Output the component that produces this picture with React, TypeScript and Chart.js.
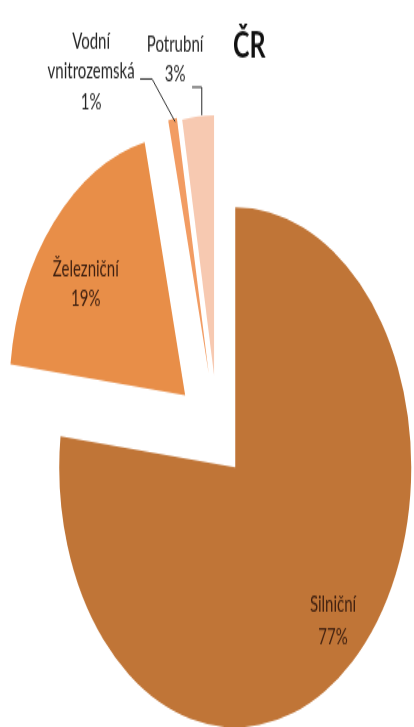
import React, { useEffect, useRef } from 'react';
import { Chart, ArcElement, PieController } from 'chart.js';

// ---- data ----
const categories = ['Silniční', 'Železniční', 'Vodní vnitrozemská', 'Potrubní'];
const labelLines = [['Silniční'], ['Železniční'], ['Vodní', 'vnitrozemská'], ['Potrubní']];
const shares = [76.9, 19.4, 0.8, 2.9];
const chartTitle = 'ČR';

// ---- styles ----
const sliceColors = ['#C07537', '#E88E48', '#F29C63', '#F7C9B1'];
const explodeDistance = [26, 44, 45, 43];
const CANVAS_W = 414;
const CANVAS_H = 492;
const PIE_RADIUS = 176;

// Arc that is exploded by a pure translation along its mid angle (Excel style)
class ExplodedArc extends ArcElement {
  static id = 'explodedArc';
  draw(ctx: CanvasRenderingContext2D) {
    const opts: any = (this as any).options;
    const d = opts.offset || 0;
    const self: any = this;
    const mid = (self.startAngle + self.endAngle) / 2;
    ctx.save();
    ctx.translate(Math.cos(mid) * d, Math.sin(mid) * d);
    self.options = Object.assign({}, opts, { offset: 0 });
    super.draw(ctx);
    self.options = opts;
    ctx.restore();
  }
}

Chart.register(PieController, ExplodedArc);
(Chart.defaults as any).datasets.pie.dataElementType = 'explodedArc';

type LabelLayout =
  | { kind: 'inside'; frac: number; dx: number; dy: number; lh: number }
  | {
      kind: 'outside';
      leader: [number, number][];
      textX: number;
      textY: number;
      lh: number;
    };

const labelLayout: LabelLayout[] = [
  { kind: 'inside', frac: 0.82, dx: 2, dy: -4, lh: 22 },
  { kind: 'inside', frac: 0.7, dx: -7.5, dy: 6.5, lh: 20.5 },
  {
    kind: 'outside',
    leader: [
      [2.6, 1.8],
      [-20.4, -27.1],
      [-32.4, -27.1],
    ],
    textX: -81.4,
    textY: -52.2,
    lh: 20.3,
  },
  {
    kind: 'outside',
    leader: [
      [3.7, -0.8],
      [3.7, -19.7],
      [-6, -19.7],
    ],
    textX: -23,
    textY: -48.1,
    lh: 19.6,
  },
];

const labelsPlugin = {
  id: 'sliceLabels',
  afterDatasetsDraw(chart: any) {
    const ctx: CanvasRenderingContext2D = chart.ctx;
    const meta = chart.getDatasetMeta(0);
    const total = shares.reduce((a, b) => a + b, 0);
    ctx.save();
    ctx.font = '15px Lato';
    ctx.textAlign = 'center';
    ctx.textBaseline = 'middle';
    meta.data.forEach((arc: any, i: number) => {
      const off = arc.options.offset || 0;
      const mid = (arc.startAngle + arc.endAngle) / 2;
      const vx = arc.x + Math.cos(mid) * off;
      const vy = arc.y + Math.sin(mid) * off;
      const lines = [...labelLines[i], Math.round((shares[i] / total) * 100) + '%'];
      const L = labelLayout[i];
      if (L.kind === 'inside') {
        const r = arc.outerRadius * L.frac;
        const cx = vx + Math.cos(mid) * r + L.dx;
        const cy = vy + Math.sin(mid) * r + L.dy;
        ctx.fillStyle = '#3f2010';
        lines.forEach((t, k) => {
          ctx.fillText(t, cx, cy + (k - (lines.length - 1) / 2) * L.lh);
        });
      } else {
        const ox = vx + Math.cos(mid) * arc.outerRadius;
        const oy = vy + Math.sin(mid) * arc.outerRadius;
        ctx.strokeStyle = '#2b2b2b';
        ctx.lineWidth = 1;
        ctx.beginPath();
        L.leader.forEach(([px, py], k) => {
          if (k === 0) ctx.moveTo(ox + px, oy + py);
          else ctx.lineTo(ox + px, oy + py);
        });
        ctx.stroke();
        ctx.fillStyle = '#262626';
        lines.forEach((t, k) => {
          ctx.fillText(t, ox + L.textX, oy + L.textY + k * L.lh);
        });
      }
    });
    // title
    ctx.font = 'bold 25px Lato';
    ctx.textAlign = 'left';
    ctx.textBaseline = 'alphabetic';
    ctx.fillStyle = '#111111';
    ctx.fillText(chartTitle, 233, 38.5);
    ctx.restore();
  },
};

export default function App() {
  const canvasRef = useRef<HTMLCanvasElement | null>(null);

  useEffect(() => {
    if (!canvasRef.current) return;
    const chart = new Chart(canvasRef.current, {
      type: 'pie',
      data: {
        labels: categories,
        datasets: [
          {
            data: shares,
            backgroundColor: sliceColors,
            borderWidth: 0,
            offset: explodeDistance,
            radius: PIE_RADIUS,
            clip: false,
          } as any,
        ],
      },
      options: {
        responsive: false,
        maintainAspectRatio: false,
        animation: false,
        devicePixelRatio: 1,
        events: [],
        rotation: 0,
        layout: { padding: { left: 22, right: 0, top: 101.6, bottom: 0 } },
      } as any,
      plugins: [labelsPlugin],
    });
    return () => chart.destroy();
  }, []);

  return (
    <div style={{ position: 'absolute', left: 0, top: 0, width: 414, height: 727, background: '#fff' }}>
      <canvas
        ref={canvasRef}
        width={CANVAS_W}
        height={CANVAS_H}
        style={{ width: '414px', height: '727px', display: 'block' }}
      />
    </div>
  );
}
